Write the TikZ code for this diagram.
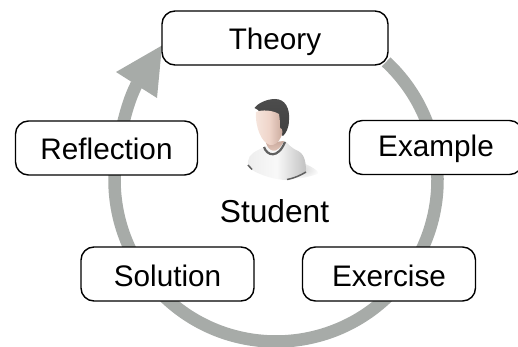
\documentclass[tikz,border=0pt]{standalone}
\usepackage{fontspec}
\setmainfont{Liberation Sans}
\definecolor{ringgray}{HTML}{A7ABA8}
\definecolor{skinlight}{HTML}{F6E6DE}
\definecolor{skinmid}{HTML}{EFD5CA}
\definecolor{skindark}{HTML}{C9A99C}
\tikzset{
  labeltext/.style={inner sep=0pt,font=\fontsize{29.7}{34}\selectfont,text depth=0pt,text height=24pt},
  topic/.style={labeltext,draw=black,line width=1.4pt,rounded corners=13pt,fill=white,minimum height=54pt,minimum width=173pt},
  ring/.style={draw=ringgray,line width=12.5pt}
}
\begin{document}
\begin{tikzpicture}[x=1pt,y=-1pt]
\useasboundingbox (0,0) rectangle (518,347);
\coordinate (c) at (276,180);
\coordinate (ringstart) at ([shift={(-47:161.5)}]c);
\coordinate (ringend) at (136.7,84.3);
\coordinate (tipl) at (116,72);
\coordinate (tipr) at (157,98);
\coordinate (tip) at (162,45.5);
% ring
\draw[ring] (ringstart) arc[start angle=-47,end angle=190,radius=161.5]
  .. controls (122,127) and (127,103) .. (ringend);
\fill[ringgray] (tip) -- (tipl) -- (tipr) -- cycle;
% person
\begin{scope}
  \shade[inner color=gray!45,outer color=white,opacity=.7] (290,158) .. controls (305,163) and (320,170) .. (318,174) .. controls (305,178) and (295,180) .. (285,179) -- cycle;
  \shade[left color=gray!14,right color=gray!48,middle color=gray!5] (248,167) .. controls (247,158) and (250,154) .. (258,150) .. controls (262,148) and (264,147) .. (266,146)
     -- (285,141) .. controls (289,145) and (292,148) .. (296,150) .. controls (304,153) and (306,160) .. (306,172)
     .. controls (300,176) and (293,179) .. (287,180) .. controls (275,180) and (260,175) .. (252,170) -- cycle;
  \shade[top color=skindark,bottom color=skinmid] (266,143) .. controls (268,150) and (276,157) .. (284,141) -- cycle;
  \draw[gray!75!black,line width=2.2pt] (264,147) .. controls (267,156) and (278,159) .. (285,142);
  \draw[gray!75!black,line width=1.5pt] (287,179.5) .. controls (295,178) and (300,175.5) .. (306,172);
  \draw[gray!75!black,line width=1.5pt] (248,165) -- (252,169.5);
  \shade[top color=black!70,bottom color=black!75] (254.5,108) .. controls (258,103) and (267,99) .. (275,99) .. controls (285,99) and (290,108) .. (289,120)
     .. controls (289,128) and (286,133) .. (283,136) -- (270,125) -- (258,110) -- cycle;
  \shade[left color=skinlight,right color=skindark,middle color=skinmid] (256,112) .. controls (262,109.5) and (272,110) .. (279,114)
     .. controls (280,120) and (280,124) .. (280,128) .. controls (283,128) and (283,134) .. (281,137)
     .. controls (279,142) and (274,146) .. (270,145) .. controls (262,143) and (255,128) .. (256,112) -- cycle;
\end{scope}
\node[labeltext,font=\fontsize{31.7}{36}\selectfont] (student) at (274.5,210) {Student};
% boxes
\node[topic,minimum width=226pt] (theory) at (275,38) {Theory};
\node[topic,minimum width=182pt] (reflection) at (106.5,148) {Reflection};
\node[topic,text height=19pt] (example) at (436,147.5) {Example};
\node[topic] (solution) at (167.5,274) {Solution};
\node[topic] (exercise) at (389,274) {Exercise};
\end{tikzpicture}
\end{document}
